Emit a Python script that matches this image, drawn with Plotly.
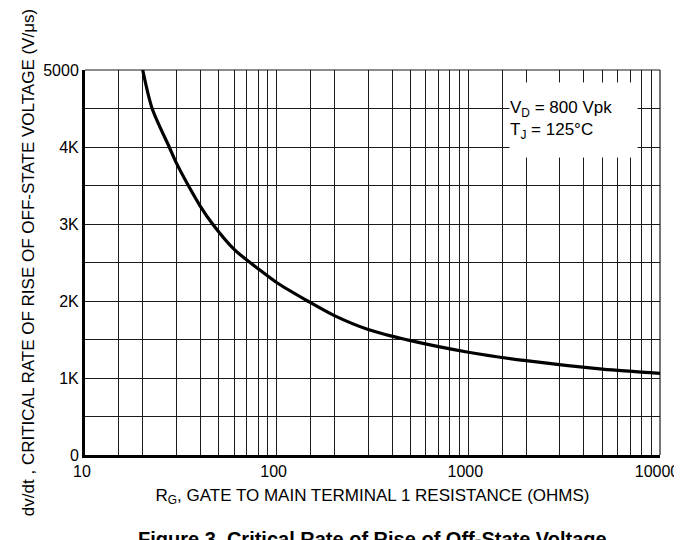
import plotly.graph_objects as go

# Data
rg_ohms = [20, 22.4, 27.5, 30, 34.6, 40, 46.3, 60, 80, 100,
           145, 200, 300, 500, 1000, 2000, 5000, 10000]
dvdt_v_per_us = [5000, 4500, 4000, 3790, 3500, 3230, 3000, 2670, 2420, 2240,
                 2000, 1810, 1630, 1485, 1335, 1225, 1115, 1060]

x_grid_vals = [10, 15, 20, 30, 40, 50, 60, 70, 80, 90,
               100, 150, 200, 300, 400, 500, 600, 700, 800, 900,
               1000, 1500, 2000, 3000, 4000, 5000, 6000, 7000, 8000, 9000, 10000]
x_tick_labels = {10: "10", 100: "100", 1000: "1000", 10000: "10000"}
y_grid_vals = [0, 500, 1000, 1500, 2000, 2500, 3000, 3500, 4000, 4500, 5000]
y_tick_labels = {0: "0", 1000: "1K", 2000: "2K", 3000: "3K", 4000: "4K", 5000: "5000"}

FONT = "Liberation Sans Narrow, Arial Narrow, Liberation Sans, Arial, sans-serif"
GRID = "#1a1a1a"

fig = go.Figure()
fig.add_trace(go.Scatter(
    x=rg_ohms, y=dvdt_v_per_us, mode="lines",
    line=dict(color="black", width=3.2, shape="spline", smoothing=0.8),
    showlegend=False, hoverinfo="skip", cliponaxis=True,
))

# page body has an 8px margin: keep the figure inside the 682x540 window
fig.update_layout(
    width=674, height=532,
    margin=dict(l=77, r=22, t=62, b=85),
    paper_bgcolor="white", plot_bgcolor="white",
    font=dict(family=FONT, size=17, color="black"),
    showlegend=False,
)

fig.update_xaxes(
    type="log", range=[1, 4], automargin=False,
    tickmode="array", tickvals=x_grid_vals,
    ticktext=[x_tick_labels.get(v, "") for v in x_grid_vals],
    showgrid=True, gridcolor=GRID, gridwidth=1.2,
    showline=True, linecolor="black", linewidth=3,
    ticks="", tickfont=dict(size=16, family=FONT),
    ticklabelshift=-3,
    zeroline=False,
    title=dict(text="R<sub>G</sub>, GATE TO MAIN TERMINAL 1 RESISTANCE (OHMS)",
               font=dict(size=17, family=FONT), standoff=10),
)
fig.update_yaxes(
    range=[0, 5000],
    tickmode="array", tickvals=y_grid_vals,
    ticktext=[y_tick_labels.get(v, "") for v in y_grid_vals],
    showgrid=True, gridcolor=GRID, gridwidth=1.2,
    showline=True, linecolor="black", linewidth=3,
    ticks="", tickfont=dict(size=16, family=FONT),
    zeroline=False,
    title=dict(text="dv/dt , CRITICAL RATE OF RISE OF OFF-STATE VOLTAGE (V/μs)",
               font=dict(size=17, family=FONT), standoff=5),
)

# thin frame lines on top and right (grid lines at the range edges)
fig.add_shape(type="line", xref="paper", yref="paper", x0=0, x1=1, y0=1, y1=1,
              line=dict(color=GRID, width=1.2), layer="below")
fig.add_shape(type="line", xref="paper", yref="paper", x0=1, x1=1, y0=0, y1=1,
              line=dict(color=GRID, width=1.2), layer="below")

fig.add_annotation(
    xref="paper", yref="paper", x=0.85, y=0.870,
    xanchor="center", yanchor="middle",
    width=127, height=74, bgcolor="white", borderpad=0,
    align="left", showarrow=False,
    text="V<sub>D</sub> = 800 Vpk<br>T<sub>J</sub> = 125°C",
    font=dict(size=17, family=FONT, color="black"),
)

fig.add_annotation(
    xref="paper", yref="paper", x=0.5, y=-0.185,
    xanchor="center", yanchor="top", showarrow=False,
    text="<b>Figure 3. Critical Rate of Rise of Off-State Voltage</b>",
    font=dict(size=20, family=FONT, color="black"),
)

fig.write_html("out.html")
